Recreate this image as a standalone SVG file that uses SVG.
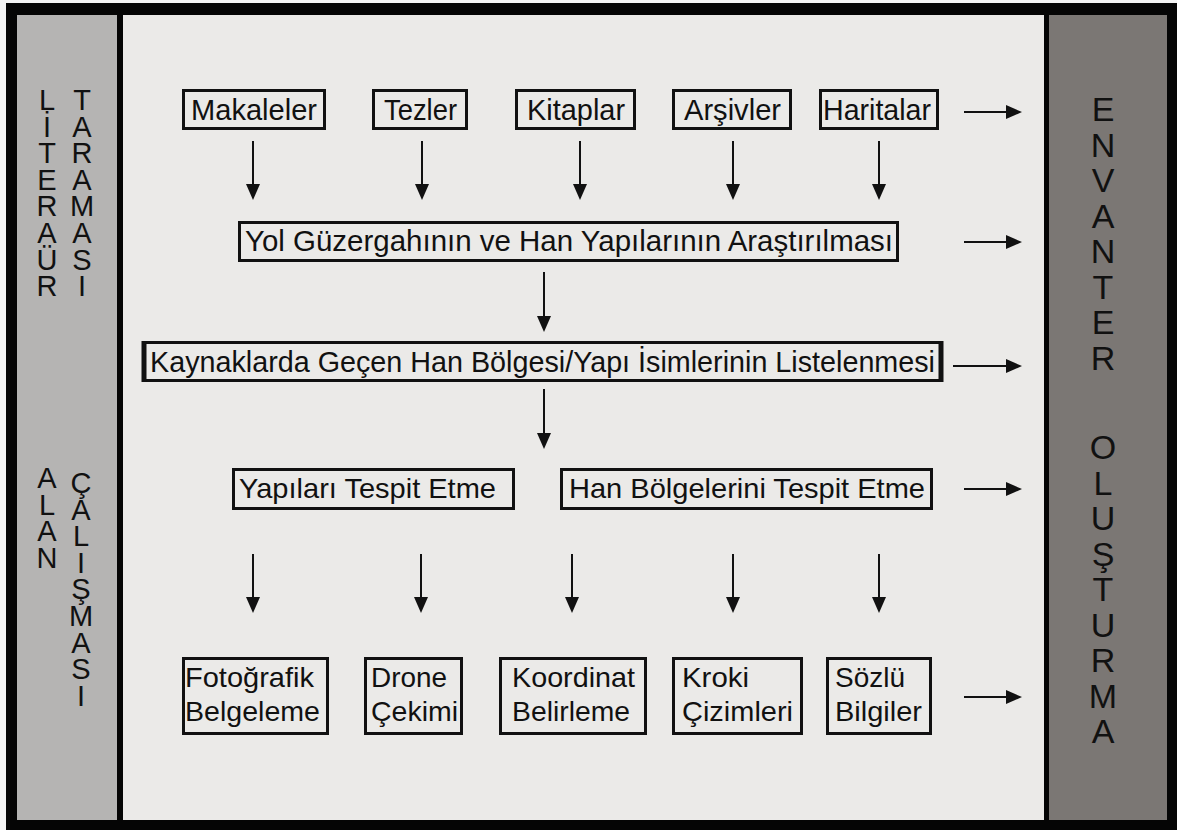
<svg xmlns="http://www.w3.org/2000/svg" width="1177" height="830" viewBox="0 0 1177 830">
<style>
.t{font-family:"Liberation Sans",Arial,sans-serif;fill:#111;}
.m{font-size:29px;}
.c{font-size:28.5px;}
.v{font-size:29px;writing-mode:vertical-rl;text-orientation:upright;letter-spacing:-5.4px;}
.r{font-size:34px;writing-mode:vertical-rl;text-orientation:upright;letter-spacing:-2.5px;}
.box{fill:none;stroke:#111;stroke-width:3;}
.ln{stroke:#111;stroke-width:2;fill:none;marker-end:url(#ah);}
</style>
<defs>
<marker id="ah" viewBox="0 0 16 14" refX="0" refY="7" markerWidth="16" markerHeight="14" markerUnits="userSpaceOnUse" orient="auto">
<path d="M0,0 L16,7 L0,14 z" fill="#111"/>
</marker>
</defs>
<rect x="0" y="0" width="1177" height="830" fill="#f4f4f4"/>
<rect x="6" y="3" width="1171" height="827" fill="#050505"/>
<g id="panel-left">
<rect x="17" y="15" width="100" height="805" fill="#b5b4b3"/>
<text class="t v" x="47" y="84">LİTERAÜR</text>
<text class="t v" x="82" y="84">TARAMASI</text>
<text class="t v" x="47" y="462">ALAN</text>
<text class="t v" x="81" y="467">ÇALIŞMASI</text>
</g>
<rect x="123" y="15" width="921" height="805" fill="#ebeae8"/>
<g id="panel-right">
<rect x="1049" y="15" width="118" height="805" fill="#7b7774"/>
<text class="t r" x="1103" y="90">ENVANTER</text>
<text class="t r" x="1103" y="428">OLUŞTURMA</text>
</g>
<g id="n-makaleler"><rect class="box" x="183.5" y="90.5" width="141" height="38"/><text class="t m" x="191" y="120" textLength="126" lengthAdjust="spacingAndGlyphs">Makaleler</text></g>
<g id="n-tezler"><rect class="box" x="373.5" y="90.5" width="93" height="38"/><text class="t m" x="384" y="120" textLength="73" lengthAdjust="spacingAndGlyphs">Tezler</text></g>
<g id="n-kitaplar"><rect class="box" x="516.5" y="90.5" width="118" height="38"/><text class="t m" x="527" y="120" textLength="98" lengthAdjust="spacingAndGlyphs">Kitaplar</text></g>
<g id="n-arsivler"><rect class="box" x="673.5" y="90.5" width="117" height="38"/><text class="t m" x="684" y="120" textLength="97" lengthAdjust="spacingAndGlyphs">Arşivler</text></g>
<g id="n-haritalar"><rect class="box" x="820.5" y="90.5" width="117" height="38"/><text class="t m" x="823" y="120" textLength="108" lengthAdjust="spacingAndGlyphs">Haritalar</text></g>
<g id="n-yol"><rect class="box" x="239.5" y="222.5" width="658" height="38"/><text class="t m" x="245" y="251" textLength="648" lengthAdjust="spacingAndGlyphs">Yol Güzergahının ve Han Yapılarının Araştırılması</text></g>
<g id="n-kaynak"><rect class="box" x="143.5" y="342.5" width="798" height="38"/><line x1="144" y1="341" x2="144" y2="382" stroke="#111" stroke-width="5"/><line x1="941" y1="341" x2="941" y2="382" stroke="#111" stroke-width="5"/><text class="t m" x="150" y="372" textLength="785" lengthAdjust="spacingAndGlyphs">Kaynaklarda Geçen Han Bölgesi/Yapı İsimlerinin Listelenmesi</text></g>
<g id="n-yapilari"><rect class="box" x="233.5" y="469.5" width="280" height="39"/><text class="t c" x="239" y="498" textLength="257" lengthAdjust="spacingAndGlyphs">Yapıları Tespit Etme</text></g>
<g id="n-hanbolge"><rect class="box" x="561.5" y="469.5" width="370" height="39"/><text class="t c" x="569" y="498" textLength="356" lengthAdjust="spacingAndGlyphs">Han Bölgelerini Tespit Etme</text></g>
<g id="n-foto"><rect class="box" x="183.5" y="658.5" width="144" height="75"/><text class="t c" x="185" y="687" textLength="129" lengthAdjust="spacingAndGlyphs">Fotoğrafik</text><text class="t c" x="185" y="721" textLength="135" lengthAdjust="spacingAndGlyphs">Belgeleme</text></g>
<g id="n-drone"><rect class="box" x="365.5" y="658.5" width="96" height="75"/><text class="t c" x="371" y="687" textLength="76" lengthAdjust="spacingAndGlyphs">Drone</text><text class="t c" x="371" y="721" textLength="87" lengthAdjust="spacingAndGlyphs">Çekimi</text></g>
<g id="n-koord"><rect class="box" x="500.5" y="658.5" width="145" height="75"/><text class="t c" x="512" y="687" textLength="123" lengthAdjust="spacingAndGlyphs">Koordinat</text><text class="t c" x="512" y="721" textLength="118" lengthAdjust="spacingAndGlyphs">Belirleme</text></g>
<g id="n-kroki"><rect class="box" x="673.5" y="658.5" width="128" height="75"/><text class="t c" x="682" y="687" textLength="67" lengthAdjust="spacingAndGlyphs">Kroki</text><text class="t c" x="682" y="721" textLength="111" lengthAdjust="spacingAndGlyphs">Çizimleri</text></g>
<g id="n-sozlu"><rect class="box" x="827.5" y="658.5" width="103" height="75"/><text class="t c" x="835" y="687" textLength="70" lengthAdjust="spacingAndGlyphs">Sözlü</text><text class="t c" x="835" y="721" textLength="87" lengthAdjust="spacingAndGlyphs">Bilgiler</text></g>
<g id="connectors">
<line class="ln" x1="253" y1="141" x2="253" y2="184"/>
<line class="ln" x1="422" y1="141" x2="422" y2="184"/>
<line class="ln" x1="580" y1="141" x2="580" y2="184"/>
<line class="ln" x1="733" y1="141" x2="733" y2="184"/>
<line class="ln" x1="879" y1="141" x2="879" y2="184"/>
<line class="ln" x1="544" y1="272" x2="544" y2="316"/>
<line class="ln" x1="544" y1="389" x2="544" y2="433"/>
<line class="ln" x1="253" y1="554" x2="253" y2="597"/>
<line class="ln" x1="421" y1="554" x2="421" y2="597"/>
<line class="ln" x1="572" y1="554" x2="572" y2="597"/>
<line class="ln" x1="733" y1="554" x2="733" y2="597"/>
<line class="ln" x1="879" y1="554" x2="879" y2="597"/>
<line class="ln" x1="964" y1="112" x2="1006" y2="112"/>
<line class="ln" x1="964" y1="242" x2="1006" y2="242"/>
<line class="ln" x1="953" y1="366" x2="1006" y2="366"/>
<line class="ln" x1="964" y1="489" x2="1006" y2="489"/>
<line class="ln" x1="964" y1="697" x2="1006" y2="697"/>
</g>
</svg>
